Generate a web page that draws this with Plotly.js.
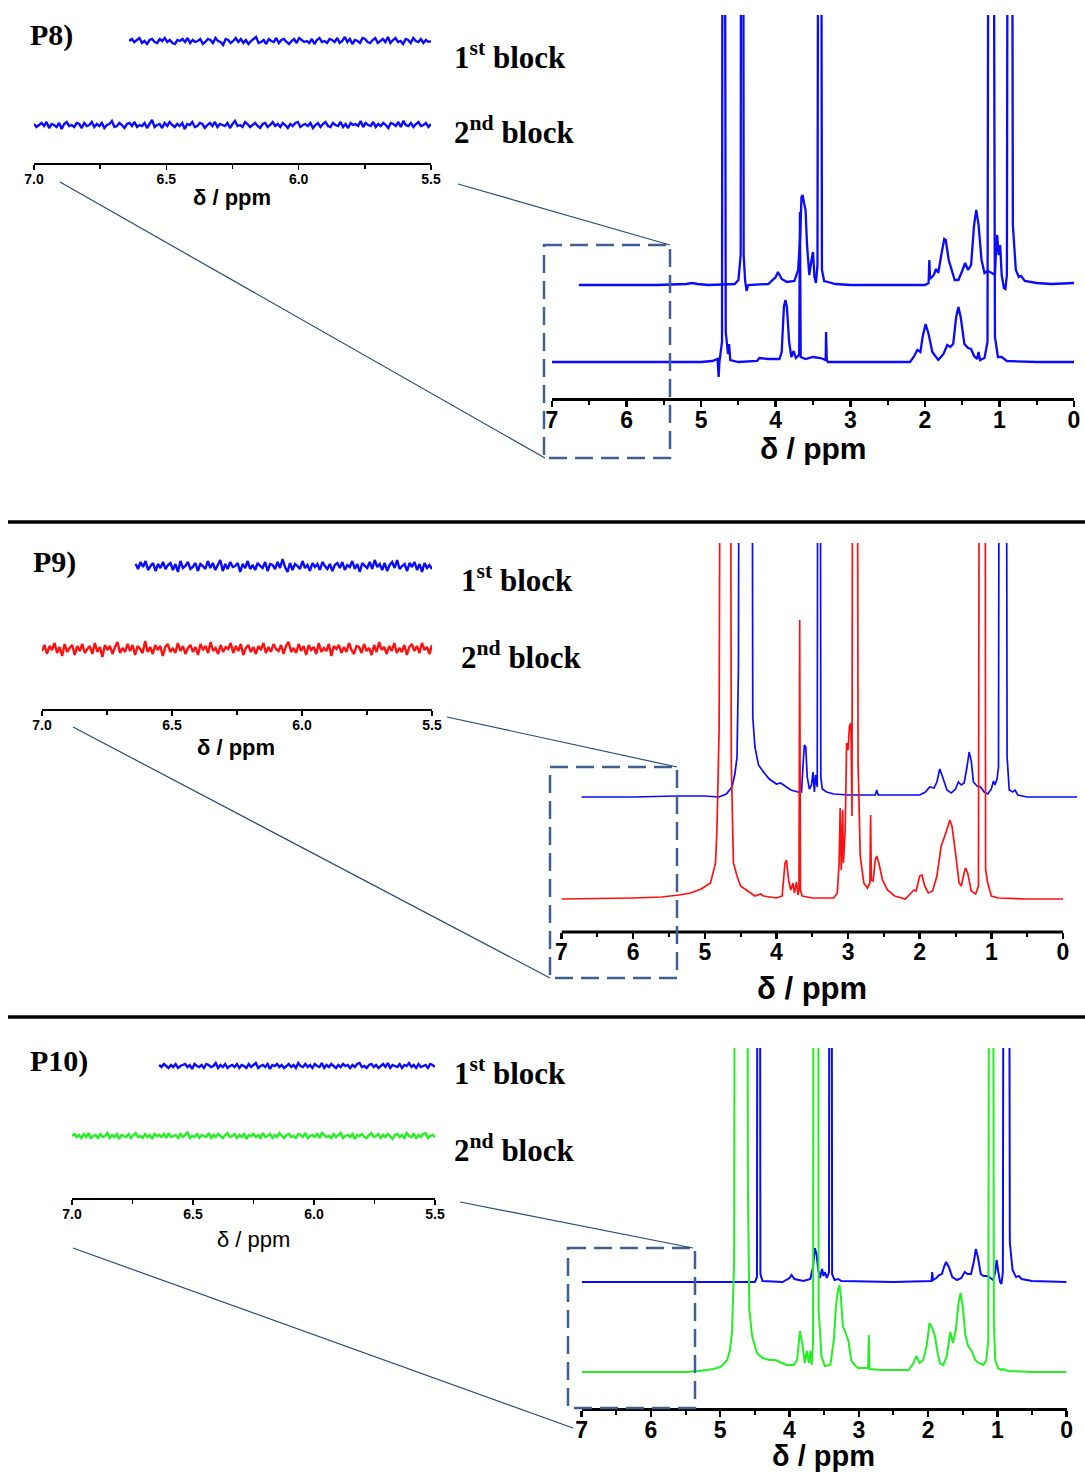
<!DOCTYPE html>
<html>
<head>
<meta charset="utf-8">
<script src="https://cdn.plot.ly/plotly-3.0.1.min.js"></script>
<style>html,body{margin:0;padding:0;background:#fff}#chart{width:1085px;height:1476px}</style>
</head>
<body>
<div id="chart"></div>
<script>
// ---------------- DATA (ppm, intensity above each baseline) ----------------
// P8, 1st block (blue)
const p8b1Ppm = [6.64,5.6,5.2,5.12,5.05,4.9,4.55,4.5,4.47,4.46,4.44,4.43,4.41,4.39,4.37,4.1,4.0,3.97,3.92,3.85,3.75,3.7,3.67,3.655,3.64,3.62,3.6,3.58,3.55,3.52,3.5,3.48,3.46,3.44,3.42,3.40,3.38,3.35,3.3,3.2,3.0,2.0,1.95,1.94,1.93,1.88,1.85,1.82,1.78,1.74,1.72,1.68,1.6,1.55,1.5,1.46,1.42,1.38,1.34,1.31,1.28,1.24,1.2,1.16,1.1,1.06,1.04,1.03,1.01,0.99,0.97,0.94,0.92,0.9,0.88,0.84,0.82,0.78,0.74,0.71,0.66,0.5,0.3,0];
const p8b1Int = [0,0,1,2,1,0,1,5,30,900,900,30,4,-6,0,1,8,13,6,3,4,15,50,88,90,82,75,40,10,25,33,8,2,20,900,900,15,4,3,1,0,0,2,25,6,10,16,12,30,46,45,25,5,5,14,22,15,20,60,75,60,25,12,14,12,10,45,50,30,40,10,-3,-4,10,900,900,60,15,8,9,4,2,1,2];
// P8, 2nd block (blue)
const p8b2Ppm = [7.0,5.0,4.85,4.78,4.765,4.755,4.72,4.71,4.69,4.67,4.64,4.625,4.61,4.5,4.25,4.22,4.1,3.95,3.92,3.89,3.87,3.85,3.82,3.79,3.76,3.73,3.7,3.685,3.675,3.665,3.6,3.5,3.4,3.33,3.325,3.315,3.3,3.2,2.2,2.15,2.1,2.06,2.03,1.99,1.95,1.9,1.82,1.75,1.7,1.66,1.62,1.58,1.55,1.52,1.47,1.42,1.38,1.34,1.3,1.28,1.26,1.2,1.16,1.14,1.09,1.06,1.02,0.97,0.9,0.5,0];
const p8b2Int = [0,0,1,3,-15,0,20,900,900,30,8,18,2,0,1,4,3,3,10,55,62,55,20,5,11,4,6,8,150,5,3,5,4,2,30,2,0,0,0,5,12,10,25,38,28,10,2,8,17,15,18,45,55,45,18,14,13,6,3,10,2,4,20,900,900,25,5,5,1,0,0];
// P9, 1st block (blue)
const p9b1Ppm = [6.72,6.0,5.4,5.0,4.8,4.7,4.62,4.58,4.55,4.53,4.51,4.35,4.33,4.3,4.25,4.18,4.1,4.0,3.94,3.9,3.8,3.7,3.65,3.63,3.61,3.59,3.57,3.54,3.51,3.49,3.47,3.455,3.43,3.415,3.395,3.38,3.36,3.3,3.2,3.0,2.62,2.6,2.58,2.2,2.0,1.92,1.86,1.8,1.76,1.72,1.68,1.62,1.56,1.5,1.46,1.42,1.38,1.34,1.31,1.28,1.25,1.2,1.15,1.1,1.05,1.0,0.97,0.95,0.92,0.9,0.88,0.8,0.78,0.75,0.7,0.67,0.63,0.5,0,-0.2];
const p9b1Int = [0,0,1,1,0,3,10,23,40,130,900,900,80,50,32,25,18,13,14,12,7,5,5,30,52,50,20,8,12,25,5,22,10,900,900,20,8,5,3,2,2,7,2,2,2,5,10,9,15,28,20,7,4,8,15,12,14,30,45,36,15,11,10,5,3,8,16,12,18,30,900,900,40,7,5,7,2,0,0,0];
// P9, 2nd block (red)
const p9b2Ppm = [7.0,6.0,5.6,5.36,5.2,5.05,4.92,4.85,4.83,4.8,4.77,4.65,4.63,4.6,4.55,4.5,4.4,4.3,4.22,4.18,4.0,3.92,3.88,3.86,3.83,3.8,3.77,3.75,3.72,3.70,3.685,3.675,3.665,3.64,3.5,3.2,3.15,3.125,3.11,3.095,3.075,3.065,3.04,3.02,3.0,2.98,2.96,2.945,2.93,2.88,2.86,2.83,2.78,2.73,2.695,2.685,2.675,2.65,2.62,2.6,2.57,2.52,2.45,2.35,2.2,2.12,2.08,2.05,2.0,1.97,1.93,1.88,1.82,1.76,1.7,1.65,1.6,1.58,1.55,1.5,1.45,1.42,1.38,1.36,1.33,1.28,1.22,1.18,1.16,1.09,1.08,1.05,1.0,0.9,0.5,0];
const p9b2Int = [0,1,2,4,6,10,16,36,70,170,900,900,136,36,23,13,8,3,5,3,1,3,36,39,19,9,16,6,17,4,9,279,9,3,1,1,6,36,91,29,89,36,69,156,149,173,176,83,900,900,136,43,16,11,16,84,19,18,39,43,36,19,9,3,0,6,9,8,23,24,13,6,8,23,53,63,74,79,73,46,16,13,26,31,26,8,5,13,900,900,29,16,3,1,0,0];
// P10, 1st block (blue)
const p10b1Ppm = [7.0,5.0,4.5,4.47,4.455,4.435,4.42,4.39,4.1,4.0,3.97,3.93,3.8,3.7,3.66,3.635,3.61,3.585,3.56,3.53,3.51,3.49,3.46,3.43,3.42,3.40,3.385,3.35,3.3,3.25,2.5,1.95,1.94,1.93,1.88,1.84,1.8,1.77,1.74,1.7,1.65,1.58,1.52,1.47,1.43,1.38,1.34,1.31,1.28,1.24,1.2,1.15,1.1,1.06,1.03,1.01,0.99,0.96,0.94,0.92,0.9,0.84,0.82,0.78,0.73,0.69,0.65,0.5,0];
const p10b1Int = [0,0,0,5,900,900,8,1,0,4,7,3,1,3,15,34,28,12,4,13,6,10,4,10,900,900,8,2,3,1,0,1,10,2,4,7,8,15,20,15,5,2,4,10,8,8,20,33,25,8,6,6,4,2,10,22,12,0,-2,10,900,900,40,12,5,6,3,1,0];
// P10, 2nd block (green)
const p10b2Ppm = [7.0,6.0,5.5,5.3,5.1,5.0,4.95,4.9,4.86,4.83,4.8,4.78,4.62,4.6,4.58,4.54,4.47,4.39,4.29,4.2,4.14,4.04,3.94,3.89,3.85,3.81,3.78,3.75,3.72,3.70,3.68,3.66,3.65,3.59,3.58,3.56,3.54,3.49,3.41,3.36,3.33,3.3,3.28,3.26,3.23,3.19,3.15,3.11,3.06,3.01,2.91,2.865,2.855,2.845,2.68,2.28,2.21,2.17,2.12,2.07,2.02,1.98,1.94,1.9,1.87,1.83,1.78,1.73,1.68,1.64,1.6,1.56,1.53,1.5,1.46,1.42,1.37,1.32,1.27,1.2,1.16,1.13,1.11,1.07,1.05,1.03,0.99,0.94,0.91,0.85,0.5,0];
const p10b2Int = [0,0,0,1,3,5,8,12,22,40,110,900,900,180,62,36,19,14,12,12,10,7,7,12,41,26,9,21,9,21,7,30,900,900,60,42,16,6,7,32,66,82,87,76,46,39,31,12,7,4,4,4,37,3,2,2,9,16,9,12,26,49,44,36,22,9,7,16,40,29,42,69,79,66,36,26,21,12,9,7,12,32,900,900,49,12,4,2,3,1,0,0];

// Inset (7.0 - 5.5 ppm) noise traces
const insetStart1 = 6.64, insetStart2 = 7.0, insetEnd = 5.5;
const p8n1 = [0,2,-1,1,3,-2,0,-3,1,2,-1,-2,2,0,3,-1,1,-2,-3,1,0,2,-1,3,-2,1,-1,0,2,-3,-1,2,1,-2,3,0,-1,-4,2,1,-2,0,3,-1,2,-2,1,-3,0,2,4,-2,-1,1,-3,2,0,-1,3,-2,1,2,-1,-3,0,2,-2,3,1,-1,0,-2,2,-3,1,3,-1,0,-2,2,1,-1,3,-2,0,4,-1,2,-3,1,0,-2,3,2,-1,-2,1,3,-2,0,2,-1,4,-2,1,3,-1,0,-3,2,1,-2,3,0,-1,2,-2,1,-1,0];
const p8n2 = [1,-2,0,2,-1,3,-3,1,0,-2,2,-4,1,3,-1,0,-2,2,1,-3,2,-1,0,3,-2,1,-1,2,-3,0,1,4,-2,-1,2,0,-3,1,2,-1,3,-2,0,-1,2,-3,1,5,-2,0,1,-3,2,-1,3,0,-2,1,-1,2,-4,1,0,3,-2,-1,2,1,-3,0,2,-1,3,-2,1,0,-1,2,-3,1,4,-1,0,-2,3,1,-2,0,2,-1,-3,1,2,-2,0,3,-1,1,-2,2,0,-3,1,-1,2,3,-2,0,1,-1,2,-3,0,2,-2,1,3,-1,-2,2,0,-1,3,-2,1,-3,2,0,1,-1,4,-2,2,0,-1,3,-2,1,-1,2,0,-3,2,1,-1,3,-2,4,0,-1,2,-2,1,3,-1,0,2,-2,1];
const p9n1 = [2,-3,4,-1,5,-4,0,3,-5,2,-2,4,-3,1,3,-4,2,-6,5,-2,0,4,-3,-1,3,-5,2,0,-3,5,-2,3,-4,1,6,-5,2,-3,4,-1,0,3,-6,2,-2,5,-3,1,-4,3,0,-2,4,-5,2,1,-3,4,-2,7,-1,-6,3,-4,2,0,-3,5,-2,1,-5,3,-1,2,-4,4,0,-3,2,-5,1,3,-2,4,-4,1,-1,5,-3,2,-6,3,0,-2,4,-3,6,-1,2,-4,3,-5,1,4,-2,6,-3,0,2,-5,3,-1,4,-4,2,-6,3,-2,1,-3];
const p9n2 = [-2,4,-5,3,-1,6,-4,2,-7,5,-3,1,4,-6,3,-2,5,-4,0,3,-5,6,-3,2,-8,4,-1,3,-5,2,7,-4,1,-3,5,-2,4,-6,3,0,-4,8,-3,2,-5,4,-1,3,-7,2,5,-3,1,-4,6,-2,3,-5,1,4,-3,2,-6,5,-1,3,-4,7,-2,1,-5,4,-3,2,0,6,-4,3,-2,5,-6,1,4,-3,2,-5,3,-1,6,-4,2,-3,5,0,-2,4,-5,3,7,-3,1,-4,5,-2,3,-6,4,-1,2,-5,6,-3,1,-2,5,-7,3,0,4,-4,2,-3,6,-1,-5,3,2,-4,5,-2,1,-6,4,-3,7,-1,2,-5,3,-2,6,-4,1,-3,4,-6,2,5,-2,3,-4,6,-1,2,-5,4];
const p10n1 = [1,-1,2,0,-2,1,-1,2,-2,0,1,2,-1,1,-3,2,0,-1,1,-2,2,1,-1,0,3,-2,1,-1,2,-2,0,1,-1,2,-2,1,0,-2,2,-1,1,3,-2,0,1,-1,2,-3,1,0,2,-1,1,-2,0,2,-1,1,-2,3,0,-1,2,-1,1,-2,2,0,-1,3,-2,1,-1,2,0,-2,1,-1,2,0,1,-2,1,-1,2,3,-1,0,-2,1,2,-1,1,-2,0,2,-1,3,-2,1,0,-1,2,-2,1,0,3,-1,1,-2,2,-1,0,1,-2,2,1,-1];
const p10n2 = [0,2,-1,1,-2,2,-1,3,-2,0,1,-2,2,-1,0,3,-2,1,-1,2,-3,1,0,-1,2,-2,1,3,-1,0,-2,2,-1,1,-3,2,0,1,-1,2,-2,3,-1,0,1,-2,2,-1,1,4,-2,0,-1,2,-2,1,0,-1,3,-2,1,-1,2,0,-2,1,3,-1,0,2,-2,1,-1,2,-3,1,0,2,-1,1,-2,3,-1,0,2,-2,1,-1,3,0,-2,1,2,-1,0,-2,2,1,-1,3,-2,0,1,-1,2,-2,3,1,-1,0,-2,2,-1,1,3,-2,0,1,-1,2,-3,1,0,2,-1,-2,1,3,-1,0,2,-2,1,-1,2,0,-3,1,2,-1,1,-2,3,0,-1,2,-2,1,-1,2,3,-2,0,1,-1];

const mainTicks = [7,6,5,4,3,2,1,0];
const insetTicks = [7.0,6.5,6.0,5.5];
const panelLabels = ['P8)','P9)','P10)'];
const blockLabels = ['1<sup>st</sup> block','2<sup>nd</sup> block'];
const axisTitle = 'δ / ppm';

// ---------------- LAYOUT HELPERS ----------------
const W = 1085, H = 1476;
const fx = px => px / W;
const fy = py => 1 - py / H;
const BLUE = '#0a0aff', RED = '#ff1010', GREEN = '#22f022';
const BOX = '#3f5f92', CONN = '#2b4a7a';

function gridPpm(a, b, n) { const out = []; for (let i = 0; i < n; i++) out.push(a + (b - a) * i / (n - 1)); return out; }
function spec(ppm, inten, off, xa, ya, color, w) {
  return {type:'scatter', mode:'lines', x:ppm, y:inten.map(v => v + off), xaxis:xa, yaxis:ya,
          line:{color:color, width:w, simplify:false}, hoverinfo:'skip', showlegend:false};
}
function noise(start, vals, off, xa, ya, color, w) {
  return spec(gridPpm(start, insetEnd, vals.length), vals, off, xa, ya, color, w);
}

const traces = [
  spec(p8b1Ppm, p8b1Int, 113, 'x', 'y', BLUE, 2.3),
  spec(p8b2Ppm, p8b2Int, 36, 'x', 'y', BLUE, 2.3),
  noise(insetStart1, p8n1, 122, 'x2', 'y2', BLUE, 2.4),
  noise(insetStart2, p8n2, 38, 'x2', 'y2', BLUE, 2.4),

  spec(p9b1Ppm, p9b1Int, 135, 'x3', 'y3', BLUE, 1.7),
  spec(p9b2Ppm, p9b2Int, 33, 'x3', 'y3', RED, 1.7),
  noise(insetStart1, p9n1, 143, 'x4', 'y4', BLUE, 2.4),
  noise(insetStart2, p9n2, 60, 'x4', 'y4', RED, 2.4),

  spec(p10b1Ppm, p10b1Int, 126, 'x5', 'y5', BLUE, 2),
  spec(p10b2Ppm, p10b2Int, 36, 'x5', 'y5', GREEN, 2),
  noise(insetStart1, p10n1, 132, 'x6', 'y6', BLUE, 2.4),
  noise(insetStart2, p10n2, 62, 'x6', 'y6', GREEN, 2.4)
];

const tickFontMain = {family:'Liberation Sans, Arial, sans-serif', size:23, weight:'bold', color:'#000'};
const tickFontInset = {family:'Liberation Sans, Arial, sans-serif', size:14, weight:'bold', color:'#000'};

function mainX(d0, d1, range, yref, showline) {
  return {domain:[fx(d0), fx(d1)], range:range, anchor:yref, showline:showline, linewidth:3, linecolor:'#000',
          ticks:'outside', ticklen:6, tickwidth:2.5, tickcolor:'#000', tickmode:'array', tickvals:mainTicks,
          ticktext:mainTicks.map(String), ticklabelstandoff:-7,
          minor:{tickmode:'linear', tick0:0, dtick:0.5, ticks:'outside', ticklen:4, tickwidth:2, tickcolor:'#000'},
          showgrid:false, zeroline:false, tickfont:tickFontMain, fixedrange:true};
}
function insetX(d0, d1, yref) {
  return {domain:[fx(d0), fx(d1)], range:[7.0, 5.5], anchor:yref, showline:true, linewidth:2, linecolor:'#000',
          ticks:'outside', ticklen:5, tickwidth:1.5, tickcolor:'#000', tickmode:'array', tickvals:insetTicks,
          ticktext:insetTicks.map(v => v.toFixed(1)), ticklabelstandoff:-3,
          minor:{tickmode:'linear', tick0:5.5, dtick:0.25, ticks:'outside', ticklen:4, tickwidth:1.5, tickcolor:'#000'},
          showgrid:false, zeroline:false, tickfont:tickFontInset, fixedrange:true};
}
function hiddenY(top, bottom, xref) {
  return {domain:[fy(bottom), fy(top)], range:[0, bottom - top], anchor:xref, visible:false, fixedrange:true};
}

const layout = {
  width:W, height:H, margin:{l:0, r:0, t:0, b:0}, paper_bgcolor:'#fff', plot_bgcolor:'rgba(0,0,0,0)', showlegend:false,
  xaxis: mainX(552, 1074, [7, 0], 'y', true),
  yaxis: hiddenY(15, 398, 'x'),
  xaxis2: insetX(34, 431, 'y2'),
  yaxis2: hiddenY(20, 163, 'x2'),
  xaxis3: mainX(561.5, 1077.3, [7, -0.2], 'y3', false),
  yaxis3: hiddenY(543, 932, 'x3'),
  xaxis4: insetX(42, 432, 'y4'),
  yaxis4: hiddenY(545, 709, 'x4'),
  xaxis5: mainX(581.7, 1066.6, [7, 0], 'y5', true),
  yaxis5: hiddenY(1048, 1408, 'x5'),
  xaxis6: insetX(72, 435, 'y6'),
  yaxis6: hiddenY(1050, 1198, 'x6'),
  shapes: [],
  annotations: []
};

function pline(x0, y0, x1, y1, color, w, dash) {
  return {type:'line', xref:'paper', yref:'paper', x0:fx(x0), y0:fy(y0), x1:fx(x1), y1:fy(y1), line:{color:color, width:w, dash:dash || 'solid'}};
}
function prect(x0, y0, x1, y1) {
  return {type:'rect', xref:'paper', yref:'paper', x0:fx(x0), y0:fy(y0), x1:fx(x1), y1:fy(y1), line:{color:BOX, width:2.5, dash:'18px,8px'}, fillcolor:'rgba(0,0,0,0)'};
}
layout.shapes.push(
  // separators
  pline(8, 522, 1085, 522, '#000', 3.5),
  pline(8, 1017, 1085, 1017, '#000', 3.5),
  // P9 axis line (only from 7 to 0)
  {type:'line', xref:'x3', yref:'paper', x0:7, x1:0, y0:fy(932), y1:fy(932), line:{color:'#000', width:3}},
  // zoom boxes
  prect(544, 245, 670, 458),
  prect(550, 767, 677, 978),
  prect(568, 1248, 695, 1408),
  // connectors
  pline(60, 182, 545, 458, CONN, 1.2),
  pline(458, 184, 670, 245, CONN, 1.2),
  pline(73, 727, 550, 978, CONN, 1.2),
  pline(447, 717, 677, 767, CONN, 1.2),
  pline(73, 1248, 573, 1428, CONN, 1.2),
  pline(460, 1202, 693, 1248, CONN, 1.2)
);

function ann(text, x, y, size, family, xanchor, weight) {
  return {text:text, xref:'paper', yref:'paper', x:fx(x), y:fy(y), xanchor:xanchor, yanchor:'middle', showarrow:false,
          font:{family:family, size:size, color:'#000', weight:weight || 'bold'}};
}
const SERIF = 'Liberation Serif, Times New Roman, serif';
const SANS = 'Liberation Sans, Arial, sans-serif';
layout.annotations.push(
  ann(panelLabels[0], 28, 35, 30, SERIF, 'left'),
  ann(panelLabels[1], 31, 562, 30, SERIF, 'left'),
  ann(panelLabels[2], 28, 1061, 30, SERIF, 'left'),
  ann(blockLabels[0], 452, 55, 31, SERIF, 'left'),
  ann(blockLabels[1], 452, 131, 31, SERIF, 'left'),
  ann(blockLabels[0], 459, 578, 31, SERIF, 'left'),
  ann(blockLabels[1], 459, 655, 31, SERIF, 'left'),
  ann(blockLabels[0], 452, 1071, 31, SERIF, 'left'),
  ann(blockLabels[1], 452, 1148, 31, SERIF, 'left'),
  ann(axisTitle, 813, 448, 30, SANS, 'center'),
  ann(axisTitle, 812, 988, 31, SANS, 'center'),
  ann(axisTitle, 823, 1456, 29, SANS, 'center'),
  ann(axisTitle, 232, 197, 22, SANS, 'center'),
  ann(axisTitle, 236, 747, 22, SANS, 'center'),
  ann(axisTitle, 253, 1239, 22, SANS, 'center', 'normal')
);

Plotly.newPlot('chart', traces, layout, {staticPlot:true, displayModeBar:false});
</script>
</body>
</html>
